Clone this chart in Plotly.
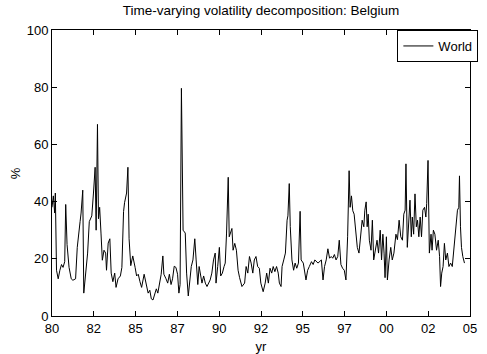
import plotly.graph_objects as go

years = [
    1980.00, 1980.08, 1980.16, 1980.20, 1980.27, 1980.37, 1980.47, 1980.57, 1980.66, 1980.76,
    1980.82, 1980.90, 1981.02, 1981.15, 1981.25, 1981.41, 1981.51, 1981.60, 1981.68, 1981.74,
    1981.84, 1981.90, 1982.03, 1982.13, 1982.23, 1982.38, 1982.48, 1982.58, 1982.64, 1982.72,
    1982.78, 1982.85, 1982.93, 1983.01, 1983.11, 1983.21, 1983.26, 1983.36, 1983.46, 1983.54,
    1983.64, 1983.75, 1983.83, 1983.95, 1984.09, 1984.18, 1984.28, 1984.34, 1984.46, 1984.54,
    1984.61, 1984.71, 1984.83, 1984.91, 1984.97, 1985.06, 1985.16, 1985.26, 1985.36, 1985.51,
    1985.65, 1985.75, 1985.85, 1985.94, 1986.04, 1986.14, 1986.24, 1986.33, 1986.43, 1986.53,
    1986.63, 1986.69, 1986.82, 1986.92, 1987.02, 1987.12, 1987.21, 1987.31, 1987.41, 1987.51,
    1987.59, 1987.66, 1987.74,
    1987.84, 1987.97, 1988.05, 1988.15, 1988.25, 1988.33, 1988.43, 1988.54, 1988.62, 1988.72,
    1988.80, 1988.88, 1988.97, 1989.07, 1989.17, 1989.27, 1989.36, 1989.46, 1989.56, 1989.66,
    1989.76, 1989.81, 1989.91, 1990.01, 1990.09, 1990.19, 1990.29, 1990.36, 1990.44, 1990.54,
    1990.60, 1990.68, 1990.76, 1990.83, 1990.93, 1991.03, 1991.13, 1991.22, 1991.36, 1991.52,
    1991.61, 1991.71, 1991.81, 1991.91, 1992.01, 1992.10, 1992.20, 1992.30, 1992.40, 1992.49,
    1992.63, 1992.75, 1992.84, 1992.94, 1993.04, 1993.14, 1993.23, 1993.33, 1993.43, 1993.53,
    1993.60, 1993.70, 1993.76, 1993.86, 1993.96, 1994.06, 1994.11, 1994.19, 1994.25, 1994.35,
    1994.45, 1994.54, 1994.64, 1994.74, 1994.84, 1994.90, 1995.03, 1995.19, 1995.29, 1995.39,
    1995.52, 1995.62, 1995.72, 1995.91,
    1996.11, 1996.21, 1996.30, 1996.40, 1996.50, 1996.60, 1996.70, 1996.79, 1996.89, 1996.99,
    1997.09, 1997.18, 1997.28, 1997.38, 1997.48, 1997.58, 1997.68, 1997.77, 1997.83, 1997.91,
    1997.99, 1998.07, 1998.16, 1998.26, 1998.36, 1998.46, 1998.55, 1998.65, 1998.71, 1998.79,
    1998.85, 1998.91, 1998.98, 1999.08, 1999.16, 1999.24, 1999.34, 1999.44, 1999.53, 1999.63,
    1999.71, 1999.79, 1999.86, 1999.92, 2000.00, 2000.06, 2000.16, 2000.26, 2000.35, 2000.45,
    2000.57, 2000.66, 2000.76, 2000.86, 2000.96, 2001.04, 2001.12, 2001.17, 2001.25, 2001.33,
    2001.41, 2001.49, 2001.55, 2001.63, 2001.71, 2001.79, 2001.86, 2001.94, 2002.02, 2002.10,
    2002.18, 2002.28, 2002.36, 2002.41, 2002.49, 2002.57, 2002.67, 2002.73, 2002.81, 2002.90,
    2003.00, 2003.10, 2003.18, 2003.24, 2003.31, 2003.39, 2003.47, 2003.55, 2003.65, 2003.74,
    2003.84, 2003.94, 2004.04, 2004.09, 2004.17, 2004.25, 2004.33, 2004.37, 2004.43, 2004.49,
    2004.57, 2004.67,
]

world = [
    38, 42, 36, 43, 16, 13, 16, 18, 17, 19,
    39, 25, 17, 13, 12.5, 13, 24, 30, 33, 36,
    44, 8, 15, 22, 33, 35, 43, 52, 30, 67,
    34, 38, 29, 19.5, 23, 22, 16, 25.5, 27, 15,
    12, 15, 10, 13, 14, 17, 36.5, 39.6, 43, 52,
    27, 17.6, 21, 19, 17, 14, 14.6, 12, 10, 14.6,
    10, 8, 9, 6, 5.6, 8, 9.5, 8, 11.5, 14.6,
    21, 14.6, 13, 11.5, 14.6, 11, 13, 17.4, 17, 14.6,
    8, 11, 79.6,
    30, 29, 15, 7, 13, 17.3, 19.6, 27, 19.6, 11,
    17.3, 15, 11.5, 14, 11.5, 10.3, 11.5, 12.6, 15, 19.6,
    22, 11.5, 17.3, 24, 14, 15, 17.3, 18.5, 29, 48.5,
    27.7, 29, 30.6, 23, 25.4, 23, 16, 13.4, 10.3, 11.5,
    17.3, 15, 20.8, 18.5, 15, 19.6, 20.8, 17.3, 16.7, 11.5,
    8.5, 11.5, 15, 11.5, 16.7, 15, 17.3, 15.5, 17.3, 15,
    11.5, 10.3, 17.3, 19.6, 22, 33.5, 35, 46.3, 31.3, 19.6,
    16, 18.5, 16.7, 18.5, 36.6, 19.6, 18.5, 12.6, 16, 17.3,
    19, 18, 19.6, 18.5,
    19.6, 12.6, 17.3, 19.6, 23.5, 20.2, 20.8, 20.2, 21.5, 19.6,
    20.8, 26.5, 18, 16.7, 16, 12.6, 27.7, 50.8, 38, 42,
    36.8, 35.6, 28.6, 24, 22, 27.7, 33.5, 31.2, 37, 39.9,
    31.2, 35.6, 26.5, 23, 33.5, 19.6, 23, 26.5, 22, 30,
    19.6, 28.6, 22, 13.4, 27.7, 12.6, 19.6, 24, 19.6, 22,
    28.6, 26.7, 33.5, 27.7, 26.5, 35.6, 37, 53.2, 24, 33.5,
    40.5, 27.7, 34.6, 28.6, 42.7, 31.2, 33.5, 27.7, 34.6, 27.7,
    37, 38, 34.6, 39.3, 54.4, 22, 28.6, 23, 30, 28.6,
    23, 26.5, 20.8, 10.3, 15, 17.3, 25.4, 19.6, 22, 17.3,
    18.5, 17.3, 24, 27.7, 31.2, 37, 38, 49, 31.2, 24,
    20.8, 18.5,
]

tick_vals = [1980, 1982.5, 1985, 1987.5, 1990, 1992.5, 1995, 1997.5, 2000, 2002.5, 2005]
tick_text = ["80", "82", "85", "87", "90", "92", "95", "97", "00", "02", "05"]
y_ticks = [0, 20, 40, 60, 80, 100]

fig = go.Figure()
fig.add_trace(go.Scatter(
    x=years, y=world, mode="lines", name="World",
    line=dict(color="black", width=1),
))

axis_common = dict(
    showgrid=False, zeroline=False, showline=True, linecolor="black", linewidth=1,
    mirror="ticks", ticks="inside", ticklen=5, tickcolor="black", tickwidth=1,
    tickfont=dict(family="Liberation Sans, Arial", size=13, color="black"),
    automargin=False,
)

fig.update_layout(
    width=487, height=354,
    margin=dict(l=52, r=9, t=30, b=38),
    paper_bgcolor="white", plot_bgcolor="white",
    font=dict(family="Liberation Sans, Arial", color="black"),
    title=dict(text="Time-varying volatility decomposition: Belgium",
               x=0.5, xref="paper", xanchor="center", y=0.972, yanchor="middle",
               font=dict(size=13.5, color="black")),
    xaxis=dict(range=[1980, 2005], tickvals=tick_vals, ticktext=tick_text,
               title=dict(text="yr", font=dict(size=13)), **axis_common),
    yaxis=dict(range=[0, 100], tickvals=y_ticks, **axis_common),
    annotations=[dict(text="%", xref="paper", yref="paper", x=-0.088, y=0.5,
                      xanchor="center", yanchor="middle", textangle=-90,
                      showarrow=False, font=dict(size=13, color="black"))],
    showlegend=True,
    legend=dict(x=1.02, xanchor="right", y=1.0, yanchor="top",
                bordercolor="black", borderwidth=1, bgcolor="white",
                font=dict(size=13, color="black"), itemwidth=30,
                tracegroupgap=0),
)

fig.write_html("out.html")
